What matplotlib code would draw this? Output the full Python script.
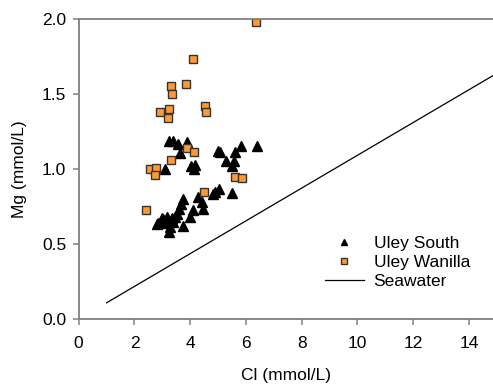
import matplotlib
matplotlib.use('Agg')
import matplotlib.pyplot as plt

plt.rcParams['font.family'] = ['Liberation Sans', 'DejaVu Sans']

# Uley South (triangles)
south_cl = [3.25, 3.37, 3.57, 3.90, 3.65, 5.01, 5.08, 5.82, 5.62, 6.39,
            5.27, 5.58, 5.51, 3.09, 4.03, 4.17, 4.13,
            5.50, 4.83, 5.02, 4.90, 4.28, 4.42, 4.45, 4.10, 3.99,
            3.73, 3.66, 3.61, 3.52, 3.46, 3.34, 3.18, 2.98, 2.86,
            3.10, 3.28, 3.24, 3.73, 3.37, 3.04, 2.80]
south_mg = [1.19, 1.19, 1.17, 1.18, 1.11, 1.12, 1.115, 1.155, 1.115, 1.157,
            1.055, 1.055, 1.025, 1.00, 1.024, 1.03, 1.00,
            0.845, 0.835, 0.87, 0.85, 0.813, 0.782, 0.737, 0.727, 0.684,
            0.80, 0.77, 0.735, 0.70, 0.684, 0.673, 0.684, 0.673, 0.64,
            0.64, 0.617, 0.584, 0.622, 0.65, 0.67, 0.633]

# Uley Wanilla (squares)
wanilla_cl = [6.35, 4.09, 3.84, 3.32, 3.36, 2.93, 3.25, 3.19, 4.52, 4.58,
              3.90, 4.13, 3.32, 2.56, 2.77, 2.75, 5.62, 5.87, 4.50, 2.40]
wanilla_mg = [1.98, 1.737, 1.57, 1.553, 1.502, 1.384, 1.40, 1.34, 1.424, 1.384,
              1.144, 1.115, 1.062, 1.00, 1.007, 0.962, 0.949, 0.94, 0.847, 0.731]

# Seawater dilution line
sea_cl = [1.0, 15.0]
sea_mg = [0.11, 1.64]

fig = plt.figure(figsize=(4.93, 3.86), dpi=100)
ax = fig.add_axes([0.1596, 0.1728, 0.8404, 0.7772])

ax.plot(south_cl, south_mg, linestyle='none', marker='^', markersize=6.5,
        color='black', label='Uley South')
ax.plot(wanilla_cl, wanilla_mg, linestyle='none', marker='s', markersize=5.5,
        markerfacecolor='#ff9a33', markeredgecolor='#333333', markeredgewidth=1.0,
        label='Uley Wanilla')
ax.plot(sea_cl, sea_mg, color='black', linewidth=0.9, label='Seawater')

ax.set_xlim(0, 14.86)
ax.set_ylim(0, 2.0)
ax.set_xticks(range(0, 15, 2))
ax.set_yticks([0.0, 0.5, 1.0, 1.5, 2.0])
ax.set_yticklabels(['0.0', '0.5', '1.0', '1.5', '2.0'])

for s in ['left', 'bottom', 'top']:
    ax.spines[s].set_color('#808080')
    ax.spines[s].set_linewidth(1.3)
ax.spines['right'].set_visible(False)
ax.tick_params(direction='out', length=4, width=1.1, color='#808080',
               labelsize=12.5, pad=5)
ax.tick_params(axis='x', pad=8)

ax.set_xlabel('Cl (mmol/L)', fontsize=12.5, labelpad=12)
ax.set_ylabel('Mg (mmol/L)', fontsize=12.5, labelpad=11)

ax.legend(loc='center', bbox_to_anchor=(0.806, 0.32), bbox_transform=fig.transFigure,
          frameon=False, fontsize=12.5, handlelength=2.25, handletextpad=0.57,
          labelspacing=0.2, markerscale=0.7)

fig.savefig('out.png', dpi=100)
